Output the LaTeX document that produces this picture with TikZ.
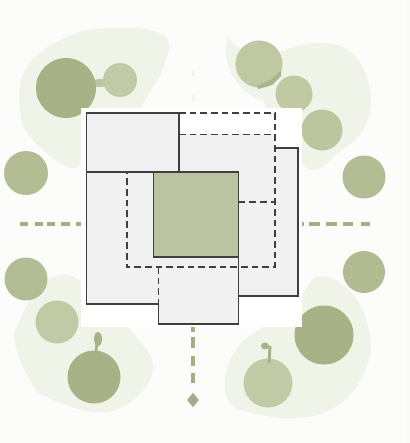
\documentclass[tikz,border=0pt]{standalone}
\usetikzlibrary{shapes.geometric}
\definecolor{bgc}{HTML}{FCFCFB}
\definecolor{blob}{HTML}{F0F3E7}
\definecolor{treeA}{HTML}{A7B287}
\definecolor{treeB}{HTML}{B3BD93}
\definecolor{treeC}{HTML}{C3CBA6}
\definecolor{house}{HTML}{F1F1F2}
\definecolor{core}{HTML}{BBC4A0}
\definecolor{ink}{HTML}{3F3F3F}
\definecolor{path}{HTML}{A3AE88}
\tikzset{
  x=0.75pt,y=-0.75pt,
  blobshape/.style={fill=blob,draw=none},
  solidline/.style={draw=ink,line width=1.15pt},
  dashline/.style={draw=ink,line width=1.15pt,dash pattern=on 5pt off 3pt},
  pathdash/.style={draw=path,line width=3.2pt},
}
\begin{document}
\begin{tikzpicture}
\useasboundingbox (0,0) rectangle (410,443);
\fill[bgc] (0,0) rectangle (410,443);
\fill[white!96!gray] (407,0) rectangle (410,443);
% blobs
\path[blobshape] plot[smooth cycle,tension=0.7] coordinates {(68,167)(33,140)(20,110)(27,67)(67,37)(113,28)(163,35)(165,63)(145,100)(120,135)(85,160)};
\path[blobshape] plot[smooth cycle,tension=0.7] coordinates {(262,62)(285,50)(318,43)(352,53)(370,90)(364,128)(338,153)(312,170)(290,145)(265,105)};
\path[blobshape] (227,37) .. controls (238,48) and (250,58) .. (262,60) -- (262,100) .. controls (240,95) and (220,65) .. (227,37) -- cycle;
\path[blobshape] plot[smooth cycle,tension=0.7] coordinates {(67,275)(40,287)(20,320)(15,343)(30,380)(47,397)(97,412)(133,400)(153,367)(133,333)(95,295)};
\path[blobshape] plot[smooth cycle,tension=0.7] coordinates {(318,277)(352,293)(370,337)(362,377)(335,407)(295,418)(248,412)(230,403)(225,377)(238,347)(262,328)(295,305)};
% garden paths
\coordinate (Lc) at (81,224);
\coordinate (Rc) at (302,224);
\coordinate (Bc) at (193,327);
\draw[pathdash] (20,224) -- (28,224) (35,224) -- (43,224) (47,224) -- (55,224) (61,224) -- (70,224) (76,224) -- (Lc);
\draw[pathdash] (Rc) -- (304,224) (309,224) -- (320,224) (326,224) -- (337,224) (343,224) -- (353,224) (361,224) -- (370,224);
\draw[pathdash] (Bc) -- (193,332) (193,337) -- (193,348) (193,356) -- (193,366) (193,373) -- (193,383);
\draw[path!15,line width=2pt] (193,70) -- (193,76) (193,95) -- (193,101);
\node[fill=path,diamond,aspect=0.8,inner sep=0pt,minimum width=9pt,minimum height=11pt,draw=none] (dm) at (193,400) {};
% trees
\fill[treeA!75!bgc] (100,83) ellipse (8 and 4);
\fill[treeC] (120,80) circle (17);
\fill[treeA] (66,88) circle (30);
\fill[treeB] (26,173) circle (22);
\fill[treeC!85!treeB] (294,94) circle (18.5);
\fill[treeC!80!treeB] (259,64) circle (23.5);
\fill[treeA!90!core] (257,86) -- (272,79) -- (281,70) -- (281,76) -- (272,85) -- (258,89) -- cycle;
\fill[treeC!60!treeB] (322,130) circle (20.5);
\fill[treeB] (364,177) circle (21.5);
\fill[treeB] (26,279) circle (21.5);
\fill[treeC!90!treeB] (57,322) circle (21.5);
\draw[treeA,line width=2pt] (97,342) -- (96,352);
\fill[treeA] (98,339) ellipse (4 and 7);
\fill[treeA] (94,377) circle (26.5);
\fill[treeB!80!treeA] (364,272) circle (21);
\fill[treeA] (324,335) circle (29.5);
\fill[treeC] (268,383) circle (24.5);
\draw[treeA,line width=2.2pt] (270,346) -- (269,363);
\fill[treeA] (265,346) ellipse (4 and 3.5);
% plot of house
\fill[white] (81,108) rectangle (302,327);
\fill[house] (86.5,113) -| (179,134) -| (275,148) -| (298,296) -| (238.5,324) -| (158.5,304) -| (86.5,113) -- cycle;
\fill[core] (153.5,172) rectangle (238.5,257);
\draw[solidline] (86.5,172) |- (179,113) -- (179,172);
\draw[solidline] (86.5,172) -- (238.5,172) -- (238.5,324) -- (158.5,324) -- (158.5,304) -- (86.5,304) -- (86.5,172);
\draw[solidline] (153.5,172) -- (153.5,257) -- (238.5,257);
\draw[solidline] (238.5,296) -- (298,296) -- (298,148) -- (275,148);
\draw[dashline] (179,113) -- (275,113) -- (275,267) -- (127,267) -- (127,172);
\draw[dashline] (179,134.5) -- (275,134.5);
\draw[dashline] (238.5,202) -- (275,202);
\draw[dashline] (158.5,267) -- (158.5,304);
\end{tikzpicture}
\end{document}
